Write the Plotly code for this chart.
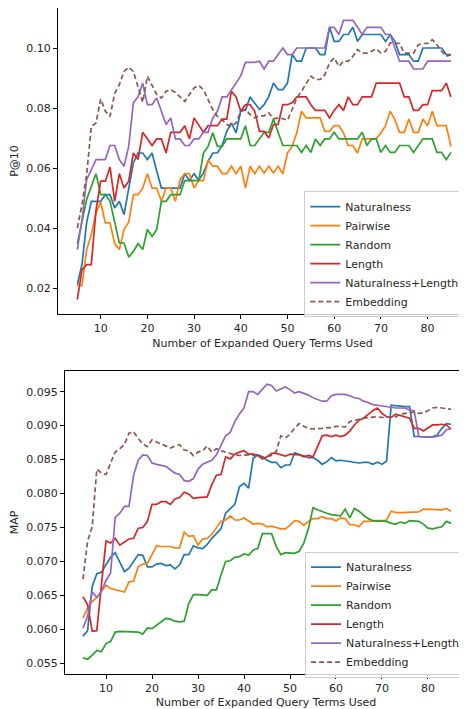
import plotly.graph_objects as go

x_terms = list(range(5, 86))
series_names = ["Naturalness", "Pairwise", "Random", "Length", "Naturalness+Length", "Embedding"]
colors = ["#1f77b4", "#ff7f0e", "#2ca02c", "#d62728", "#9467bd", "#8c564b"]

p10_naturalness = [
    0.0212, 0.028, 0.042, 0.049, 0.049, 0.049, 0.0512, 0.0512, 0.0468, 0.049,
    0.0446, 0.053, 0.0618, 0.0651, 0.0651, 0.0629, 0.0651, 0.059, 0.0534, 0.0534,
    0.0534, 0.0534, 0.0534, 0.0582, 0.056, 0.0582, 0.056, 0.0584, 0.0623, 0.0651,
    0.0651, 0.0676, 0.0723, 0.0751, 0.0718, 0.0793, 0.0793, 0.0838, 0.0818, 0.0796,
    0.0812, 0.084, 0.0884, 0.0862, 0.0862, 0.0884, 0.0979, 0.0957, 0.0957, 0.1001,
    0.1001, 0.1001, 0.0979, 0.0979, 0.107, 0.1023, 0.1023, 0.1046, 0.1046, 0.107,
    0.1023, 0.1046, 0.1046, 0.1046, 0.1046, 0.1046, 0.1023, 0.1046, 0.1023, 0.0979,
    0.0979, 0.0979, 0.0957, 0.0957, 0.1001, 0.1001, 0.1001, 0.1001, 0.1001, 0.0979,
    0.0979]
p10_pairwise = [
    0.021, 0.021, 0.0329, 0.0379, 0.0451, 0.0487, 0.0418, 0.0418, 0.0349, 0.0329,
    0.0396, 0.042, 0.0512, 0.0512, 0.0534, 0.0582, 0.0534, 0.0534, 0.049, 0.0534,
    0.0534, 0.049, 0.0562, 0.0582, 0.0582, 0.0534, 0.0559, 0.0559, 0.0627, 0.0607,
    0.0607, 0.0582, 0.0582, 0.0607, 0.0582, 0.0607, 0.0534, 0.0607, 0.0582, 0.0607,
    0.0584, 0.0607, 0.0584, 0.0607, 0.0582, 0.0651, 0.0673, 0.0718, 0.079, 0.0768,
    0.0768, 0.0768, 0.0768, 0.0723, 0.0723, 0.0742, 0.0742, 0.0718, 0.0676, 0.0676,
    0.0651, 0.0698, 0.0698, 0.0698, 0.0698, 0.0718, 0.0742, 0.079, 0.0762, 0.072,
    0.072, 0.0764, 0.072, 0.072, 0.0764, 0.0742, 0.079, 0.0742, 0.0742, 0.0742,
    0.0673]
p10_random = [
    0.0349, 0.0429, 0.0496, 0.054, 0.0582, 0.0512, 0.0512, 0.049, 0.0418, 0.0351,
    0.0351, 0.0304, 0.0323, 0.0349, 0.0329, 0.0396, 0.0373, 0.0396, 0.049, 0.049,
    0.0512, 0.0512, 0.0512, 0.0559, 0.0559, 0.0559, 0.0559, 0.0651, 0.0673, 0.0718,
    0.0673, 0.0673, 0.0698, 0.0698, 0.0698, 0.0698, 0.0742, 0.0676, 0.0676, 0.0698,
    0.072, 0.072, 0.0764, 0.072, 0.0676, 0.0676, 0.0676, 0.0676, 0.0653, 0.0676,
    0.0653, 0.0698, 0.0676, 0.0698, 0.0698, 0.072, 0.0698, 0.0698, 0.0698, 0.0698,
    0.0698, 0.072, 0.0676, 0.0698, 0.0698, 0.0653, 0.0676, 0.0653, 0.0653, 0.0676,
    0.0676, 0.0676, 0.0653, 0.0676, 0.0698, 0.0698, 0.0698, 0.0653, 0.0653, 0.0629,
    0.0653]
p10_length = [
    0.0162, 0.0262, 0.0279, 0.0279, 0.046, 0.0557, 0.0557, 0.0604, 0.049, 0.0582,
    0.0534, 0.0557, 0.0651, 0.0629, 0.072, 0.0698, 0.0676, 0.0698, 0.0698, 0.0651,
    0.072, 0.072, 0.072, 0.0742, 0.0698, 0.0768, 0.0742, 0.072, 0.0742, 0.0742,
    0.0742, 0.0764, 0.0764, 0.0857, 0.0838, 0.079, 0.0812, 0.0812, 0.079, 0.0723,
    0.0723, 0.0701, 0.0746, 0.0746, 0.0812, 0.0812, 0.0818, 0.0838, 0.0838, 0.0838,
    0.0812, 0.0793, 0.0793, 0.0793, 0.0768, 0.0793, 0.0812, 0.0793, 0.0838, 0.0812,
    0.0812, 0.0838, 0.0838, 0.0838, 0.0884, 0.0884, 0.0884, 0.0884, 0.0884, 0.0884,
    0.0838, 0.0838, 0.0793, 0.0793, 0.0812, 0.0812, 0.0859, 0.0859, 0.0859, 0.0884,
    0.0838]
p10_natlen = [
    0.0329, 0.0429, 0.0562, 0.0596, 0.0629, 0.0629, 0.0629, 0.0676, 0.0676, 0.0629,
    0.0607, 0.0673, 0.0818, 0.0838, 0.0884, 0.0812, 0.0812, 0.0834, 0.079, 0.0746,
    0.0768, 0.0698, 0.0698, 0.0676, 0.0676, 0.0698, 0.0698, 0.072, 0.072, 0.0768,
    0.079, 0.0838, 0.0838, 0.0859, 0.0884, 0.0909, 0.0953, 0.0953, 0.0953, 0.0957,
    0.0931, 0.0957, 0.0957, 0.0979, 0.1001, 0.0979, 0.0979, 0.1001, 0.1001, 0.1001,
    0.1001, 0.1001, 0.1001, 0.1001, 0.107, 0.107, 0.1046, 0.1093, 0.1093, 0.1093,
    0.107, 0.1046, 0.107, 0.107, 0.107, 0.107, 0.1046, 0.1046, 0.1001, 0.0957,
    0.0957, 0.0957, 0.0931, 0.0931, 0.0931, 0.0957, 0.0957, 0.0957, 0.0957, 0.0957,
    0.0957]
p10_embedding = [
    0.0401, 0.048, 0.058, 0.074, 0.0751, 0.0831, 0.079, 0.0773, 0.0849, 0.0879,
    0.0923, 0.0937, 0.0923, 0.087, 0.082, 0.0907, 0.0879, 0.0846, 0.0834, 0.0857,
    0.0862, 0.0853, 0.0838, 0.0823, 0.0846, 0.0868, 0.0876, 0.0862, 0.0829, 0.0796,
    0.0773, 0.0762, 0.0746, 0.074, 0.0751, 0.079, 0.0796, 0.0779, 0.0768, 0.0775,
    0.0775, 0.0785, 0.0765, 0.0768, 0.0765, 0.076, 0.0796, 0.0834, 0.0857, 0.0884,
    0.0907, 0.0896, 0.0896, 0.0912, 0.0951, 0.0968, 0.094, 0.0957, 0.0957, 0.0973,
    0.0996, 0.0984, 0.0984, 0.099, 0.0998, 0.0984, 0.099, 0.1018, 0.1018, 0.1016,
    0.0984, 0.0984, 0.0984, 0.1012, 0.1016, 0.1016, 0.1029, 0.1012, 0.099, 0.0973,
    0.0979]

map_naturalness = [
    0.0590, 0.0598, 0.0663, 0.0682, 0.0684, 0.0695, 0.0706, 0.0713, 0.0699, 0.0685,
    0.0690, 0.0700, 0.0710, 0.0709, 0.0692, 0.0692, 0.0696, 0.0697, 0.0694, 0.0695,
    0.0689, 0.0695, 0.0710, 0.0710, 0.0723, 0.0720, 0.0719, 0.0725, 0.0734, 0.0741,
    0.0748, 0.0771, 0.0778, 0.0784, 0.0810, 0.0815, 0.0808, 0.0852, 0.0857, 0.0854,
    0.0849, 0.0846, 0.0846, 0.0838, 0.0842, 0.0842, 0.0860, 0.0858, 0.0856, 0.0853,
    0.0853, 0.0849, 0.0843, 0.0847, 0.0853, 0.0848, 0.0849, 0.0848, 0.0846, 0.0846,
    0.0845, 0.0846, 0.0846, 0.0843, 0.0846, 0.0843, 0.0848, 0.0930, 0.0929, 0.0928,
    0.0928, 0.0928, 0.0884, 0.0884, 0.0883, 0.0883, 0.0884, 0.0886, 0.0896, 0.0903,
    0.0902]
map_pairwise = [
    0.0617, 0.0631, 0.0641, 0.0647, 0.0656, 0.0665, 0.0660, 0.0658, 0.0656, 0.0655,
    0.0670, 0.0671, 0.0692, 0.0696, 0.0697, 0.0710, 0.0723, 0.0722, 0.0722, 0.0722,
    0.0720, 0.0720, 0.0743, 0.0737, 0.0738, 0.0724, 0.0733, 0.0734, 0.0740, 0.0749,
    0.0759, 0.0761, 0.0767, 0.0761, 0.0761, 0.0764, 0.0759, 0.0755, 0.0756, 0.0755,
    0.0751, 0.0752, 0.0750, 0.0748, 0.0748, 0.0753, 0.0760, 0.0759, 0.0753, 0.0759,
    0.0763, 0.0763, 0.0766, 0.0763, 0.0763, 0.0760, 0.0764, 0.0763, 0.0754, 0.0754,
    0.0751, 0.0759, 0.0759, 0.0760, 0.0760, 0.0760, 0.0761, 0.0774, 0.0772, 0.0772,
    0.0772, 0.0773, 0.0773, 0.0773, 0.0777, 0.0777, 0.0777, 0.0776, 0.0776, 0.0778,
    0.0774]
map_random = [
    0.0558, 0.0556, 0.0562, 0.0569, 0.0567, 0.0579, 0.0582, 0.0596, 0.0597, 0.0597,
    0.0596, 0.0597, 0.0596, 0.0593, 0.0602, 0.0601, 0.0606, 0.0612, 0.0616, 0.0615,
    0.0612, 0.0611, 0.0612, 0.0638, 0.0651, 0.0651, 0.0651, 0.0650, 0.0658, 0.0658,
    0.0680, 0.0700, 0.0701, 0.0706, 0.0707, 0.0711, 0.0709, 0.0717, 0.0719, 0.0741,
    0.0741, 0.0741, 0.0722, 0.0710, 0.0713, 0.0712, 0.0712, 0.0715, 0.0727, 0.0748,
    0.0779, 0.0776, 0.0773, 0.0771, 0.0769, 0.0768, 0.0767, 0.0777, 0.0764, 0.0778,
    0.0774, 0.0768, 0.0763, 0.0760, 0.0760, 0.0759, 0.0759, 0.0756, 0.0755, 0.0758,
    0.0756, 0.0760, 0.0759, 0.0759, 0.0755, 0.0749, 0.0748, 0.0750, 0.0751, 0.0759,
    0.0756]
map_length = [
    0.0648, 0.0636, 0.0597, 0.0598, 0.0665, 0.0730, 0.0727, 0.0734, 0.0724, 0.0729,
    0.0733, 0.0734, 0.0749, 0.0750, 0.0759, 0.0784, 0.0784, 0.0788, 0.0788, 0.0784,
    0.0792, 0.0794, 0.0802, 0.0799, 0.0793, 0.0794, 0.0795, 0.0795, 0.0813, 0.0827,
    0.0828, 0.0854, 0.0851, 0.0858, 0.0861, 0.0863, 0.0858, 0.0858, 0.0856, 0.0851,
    0.0854, 0.0859, 0.0859, 0.0857, 0.0855, 0.0858, 0.0857, 0.0857, 0.0854, 0.0856,
    0.0854, 0.0870, 0.0885, 0.0886, 0.0884, 0.0886, 0.0884, 0.0886, 0.0892, 0.0901,
    0.0908, 0.0911, 0.0917, 0.0922, 0.0926, 0.0918, 0.0913, 0.0912, 0.0917, 0.0915,
    0.0913, 0.0911, 0.0896, 0.0896, 0.0892, 0.0896, 0.0901, 0.0901, 0.0902, 0.0901,
    0.0895]
map_natlen = [
    0.0602, 0.0619, 0.0655, 0.0647, 0.0656, 0.0672, 0.0683, 0.0765, 0.0771, 0.0781,
    0.0781, 0.0827, 0.0849, 0.0857, 0.0856, 0.0845, 0.0843, 0.0842, 0.0840, 0.0835,
    0.0830, 0.0828, 0.0819, 0.0818, 0.0822, 0.0836, 0.0843, 0.0846, 0.0849, 0.0857,
    0.0872, 0.0885, 0.0890, 0.0906, 0.0917, 0.0926, 0.0950, 0.0950, 0.0946, 0.0953,
    0.0961, 0.0959, 0.0951, 0.0954, 0.0957, 0.0953, 0.0948, 0.0950, 0.0948, 0.0945,
    0.0941, 0.0938, 0.0936, 0.0936, 0.0944, 0.0946, 0.0946, 0.0946, 0.0944, 0.0941,
    0.0940, 0.0936, 0.0934, 0.0931, 0.0930, 0.0929, 0.0928, 0.0926, 0.0926, 0.0926,
    0.0926, 0.0923, 0.0922, 0.0884, 0.0883, 0.0883, 0.0883, 0.0884, 0.0886, 0.0894,
    0.0895]
map_embedding = [
    0.0674, 0.0730, 0.0751, 0.0836, 0.0830, 0.0828, 0.0845, 0.0861, 0.0866, 0.0872,
    0.0889, 0.0891, 0.0881, 0.0873, 0.0869, 0.0879, 0.0876, 0.0873, 0.0870, 0.0867,
    0.0870, 0.0872, 0.0864, 0.0863, 0.0856, 0.0861, 0.0863, 0.0870, 0.0861, 0.0866,
    0.0863, 0.0861, 0.0858, 0.0857, 0.0856, 0.0857, 0.0857, 0.0856, 0.0857, 0.0853,
    0.0854, 0.0856, 0.0862, 0.0885, 0.0882, 0.0887, 0.0896, 0.0903, 0.0899, 0.0896,
    0.0895, 0.0895, 0.0896, 0.0897, 0.0897, 0.0899, 0.0899, 0.0898, 0.0906, 0.0908,
    0.0910, 0.0911, 0.0912, 0.0913, 0.0913, 0.0912, 0.0912, 0.0912, 0.0913, 0.0917,
    0.0918, 0.0918, 0.0920, 0.0918, 0.0919, 0.0922, 0.0926, 0.0927, 0.0926, 0.0925,
    0.0924]

p10_series = [p10_naturalness, p10_pairwise, p10_random, p10_length, p10_natlen, p10_embedding]
map_series = [map_naturalness, map_pairwise, map_random, map_length, map_natlen, map_embedding]

# The page body adds an 8px margin, so the figure is sized to fill the rest of the window
OFF = 8
W, H = 467 - OFF, 709 - OFF
FONT = "DejaVu Sans"
TXT = "#262626"


def px_x(p):
    return (p - OFF) / W


def px_y(p):
    return 1 - (p - OFF) / H


fig = go.Figure()
for name, col, ys in zip(series_names, colors, p10_series):
    fig.add_trace(go.Scatter(
        x=x_terms, y=ys, name=name, mode="lines", xaxis="x", yaxis="y",
        line=dict(color=col, width=1.7, dash="5px,3px" if name == "Embedding" else "solid"),
        legend="legend"))
for name, col, ys in zip(series_names, colors, map_series):
    fig.add_trace(go.Scatter(
        x=x_terms, y=ys, name=name, mode="lines", xaxis="x2", yaxis="y2",
        line=dict(color=col, width=1.7, dash="5px,3px" if name == "Embedding" else "solid"),
        legend="legend2"))

axis_common = dict(
    showline=True, linecolor="black", linewidth=1, ticks="outside", ticklen=4,
    tickwidth=1, tickcolor="black", showgrid=False, zeroline=False,
    tickfont=dict(family=FONT, size=11, color=TXT), automargin=False,
)

legend_common = dict(
    xanchor="right", yanchor="middle", bgcolor="rgba(255,255,255,0.8)",
    bordercolor="#cccccc", borderwidth=1,
    font=dict(family=FONT, size=11, color=TXT), itemwidth=30, tracegroupgap=0,
)

title_font = dict(family=FONT, size=11, color=TXT)

fig.update_layout(
    width=W, height=H, margin=dict(l=0, r=0, t=0, b=0),
    paper_bgcolor="white", plot_bgcolor="white",
    font=dict(family=FONT, size=11, color=TXT),
    showlegend=True,
    xaxis=dict(axis_common, domain=[px_x(58), 1], range=[0.86, 88.44], mirror=True,
               tickvals=[10, 20, 30, 40, 50, 60, 70, 80], anchor="y",
               title=dict(text="Number of Expanded Query Terms Used", standoff=5, font=title_font)),
    yaxis=dict(axis_common, domain=[px_y(314), 1], range=[0.011433, 0.11343],
               tickvals=[0.02, 0.04, 0.06, 0.08, 0.10], tickformat=".2f", anchor="x",
               title=dict(text="P@10", standoff=5, font=title_font)),
    xaxis2=dict(axis_common, domain=[px_x(65), 1], range=[1.087, 88.48], mirror=True,
                tickvals=[10, 20, 30, 40, 50, 60, 70, 80], anchor="y2",
                title=dict(text="Number of Expanded Query Terms Used", standoff=5, font=title_font)),
    yaxis2=dict(axis_common, domain=[px_y(674), px_y(370.7)], range=[0.05342, 0.09809],
                tickvals=[0.055, 0.060, 0.065, 0.070, 0.075, 0.080, 0.085, 0.090, 0.095],
                tickformat=".3f", anchor="x2",
                title=dict(text="MAP", standoff=5, font=title_font)),
    legend=dict(legend_common, x=px_x(464.3), y=px_y(254.2)),
    legend2=dict(legend_common, x=px_x(465), y=px_y(614.7)),
)

fig.write_html("out.html")
